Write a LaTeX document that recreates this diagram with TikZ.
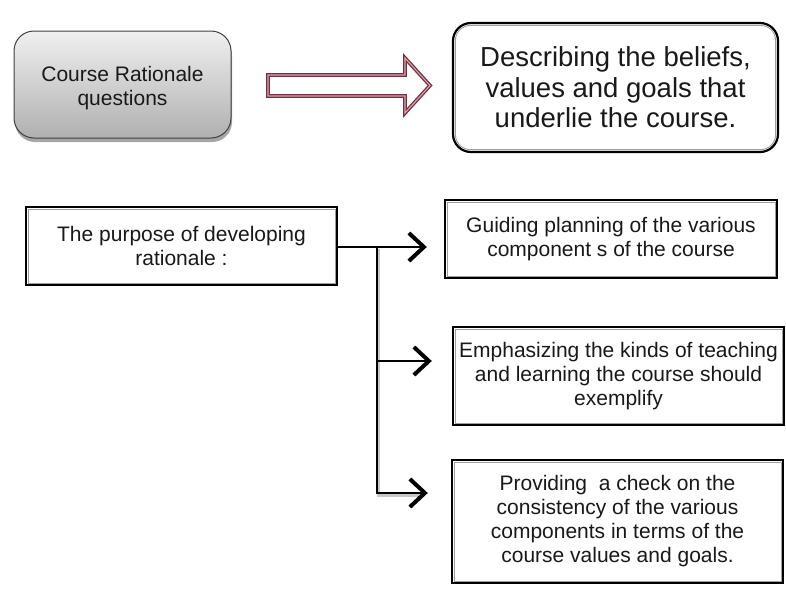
\documentclass[tikz,border=0pt]{standalone}
\usepackage{fontspec}
\setmainfont{Liberation Sans}
\usetikzlibrary{arrows.meta,shadows}
\definecolor{maroon}{HTML}{7B2D3B}
\definecolor{pinkish}{HTML}{D2A8B0}
\tikzset{
  txt/.style={font=\fontsize{21}{24}\selectfont, align=center, text=black!90, inner sep=0pt},
  bigtxt/.style={font=\fontsize{27.5}{30.5}\selectfont, align=center, text=black!90, inner sep=0pt},
  sqbox/.style={txt, draw=black, line width=2.4pt, fill=white},
  inset/.style={draw=gray!75, line width=0.9pt},
  conn/.style={line width=2.4pt, draw=black},
  tip/.style={-{Straight Barb[length=15pt,width=28pt,line width=4pt]}},
}
\begin{document}
\begin{tikzpicture}[x=1pt,y=-1pt]
\useasboundingbox (0,0) rectangle (786,597);

% Course Rationale box
\node[txt, draw=black!75, line width=1pt, rounded corners=20pt,
      top color=gray!12, bottom color=gray!62,
      drop shadow={shadow xshift=1pt, shadow yshift=-4pt, opacity=0.35, fill=black},
      minimum width=217pt, minimum height=107pt] (course) at (122.5,84.5) {};
\node[txt] (coursetext) at (122.5,88) {Course Rationale\\questions};

% hollow arrow
\draw[draw=maroon, line width=1.3pt, double=pinkish, double distance=1.1pt, line join=miter]
  (268,75) -- (405,75) -- (405,58) -- (430,85.5) -- (405,113) -- (405,96) -- (268,96) -- cycle;

% Describing box
\node[bigtxt, draw=black, line width=2.2pt, rounded corners=18pt, fill=white,
      minimum width=325pt, minimum height=129pt] (desc) at (615.5,87.5)
      {Describing the beliefs,\\values and goals that\\underlie the course.};
\draw[inset, rounded corners=15pt] ([shift={(3.5pt,-3.5pt)}]desc.north west) rectangle ([shift={(-3.5pt,3.5pt)}]desc.south east);

% Purpose box
\node[sqbox, minimum width=311pt, minimum height=78pt] (purp) at (181.5,246)
      {The purpose of developing\\rationale :};
% right-hand boxes
\node[sqbox, minimum width=332pt, minimum height=78pt] (guide) at (611,239)
      {Guiding planning of the various\\component s of the course};
\node[sqbox, minimum width=331pt, minimum height=98pt] (emph) at (618.5,376)
      {Emphasizing the kinds of teaching\\and learning the course should\\exemplify};
\node[sqbox, minimum width=331pt, minimum height=123pt] (prov) at (617.5,521.5)
      {Providing\ \ a check on the\\consistency of the various\\components in terms of the\\course values and goals.};

\foreach \n in {purp,guide,emph,prov}{
  \draw[inset] ([shift={(3.2pt,-3.2pt)}]\n.north west) rectangle ([shift={(-3.2pt,3.2pt)}]\n.south east);
}

% connectors
\coordinate (j1) at (377,247);
\coordinate (j2) at (377,361);
\coordinate (j3) at (377,493);
\draw[conn, black!22, line width=3pt] ([shift={(1.5pt,-2pt)}]j1) -- ([shift={(1.5pt,-2pt)}]j3) -- ([shift={(-30pt,-2pt)}]j3 -| prov.west);
\draw[conn, tip, shorten >=17pt] (purp.east |- j1) -- (guide.west |- j1);
\draw[conn] (j1) -- (j3);
\draw[conn, tip, shorten >=20pt] (j2) -- (emph.west |- j2);
\draw[conn, tip, shorten >=23pt, line join=miter] (j1) -- (j3) -- (prov.west |- j3);
\end{tikzpicture}
\end{document}
